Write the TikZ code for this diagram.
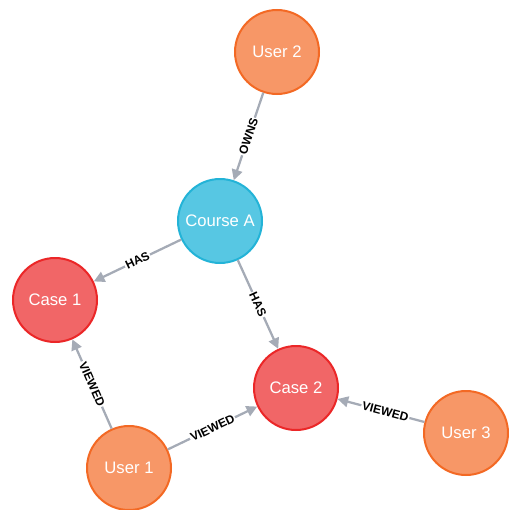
\documentclass[tikz,border=0pt]{standalone}
\usepackage{fontspec}
\setmainfont{Liberation Sans}
\usetikzlibrary{arrows.meta}
\definecolor{userfill}{HTML}{F79767}
\definecolor{userdraw}{HTML}{F36924}
\definecolor{coursefill}{HTML}{57C7E3}
\definecolor{coursedraw}{HTML}{23B3D7}
\definecolor{casefill}{HTML}{F16667}
\definecolor{casedraw}{HTML}{EB2728}
\definecolor{edgegray}{HTML}{A5ABB6}
\begin{document}
\begin{tikzpicture}[x=0.75pt,y=-0.75pt,
  gnode/.style={circle,minimum size=63pt,inner sep=0pt,line width=1.5pt,text=white,
    font=\fontsize{12.5}{14}\selectfont},
  usernode/.style={gnode,fill=userfill,draw=userdraw},
  coursenode/.style={gnode,fill=coursefill,draw=coursedraw},
  casenode/.style={gnode,fill=casefill,draw=casedraw},
  rel/.style={draw=edgegray,line width=1.7pt,-{Triangle[length=8pt,width=8pt]}},
  rellabel/.style={sloped,fill=white,inner sep=0.8pt,text=black,
    font=\fontsize{9}{9}\selectfont\bfseries}
]
\useasboundingbox (0,0) rectangle (508,510);
\node[usernode]   (user2)   at (277,52)  {User 2};
\node[coursenode] (coursea) at (220,221) {Course A};
\node[casenode]   (case1)   at (55,300)  {Case 1};
\node[casenode]   (case2)   at (296,388) {Case 2};
\node[usernode]   (user1)   at (129,468) {User 1};
\node[usernode]   (user3)   at (466,433) {User 3};
\draw[rel] (user2) -- node[rellabel] {OWNS} (coursea);
\draw[rel] (coursea) -- node[rellabel] {HAS} (case1);
\draw[rel] (coursea) -- node[rellabel] {HAS} (case2);
\draw[rel] (user1) -- node[rellabel] {VIEWED} (case1);
\draw[rel] (user1) -- node[rellabel] {VIEWED} (case2);
\draw[rel] (user3) -- node[rellabel,pos=0.45] {VIEWED} (case2);
\end{tikzpicture}
\end{document}
